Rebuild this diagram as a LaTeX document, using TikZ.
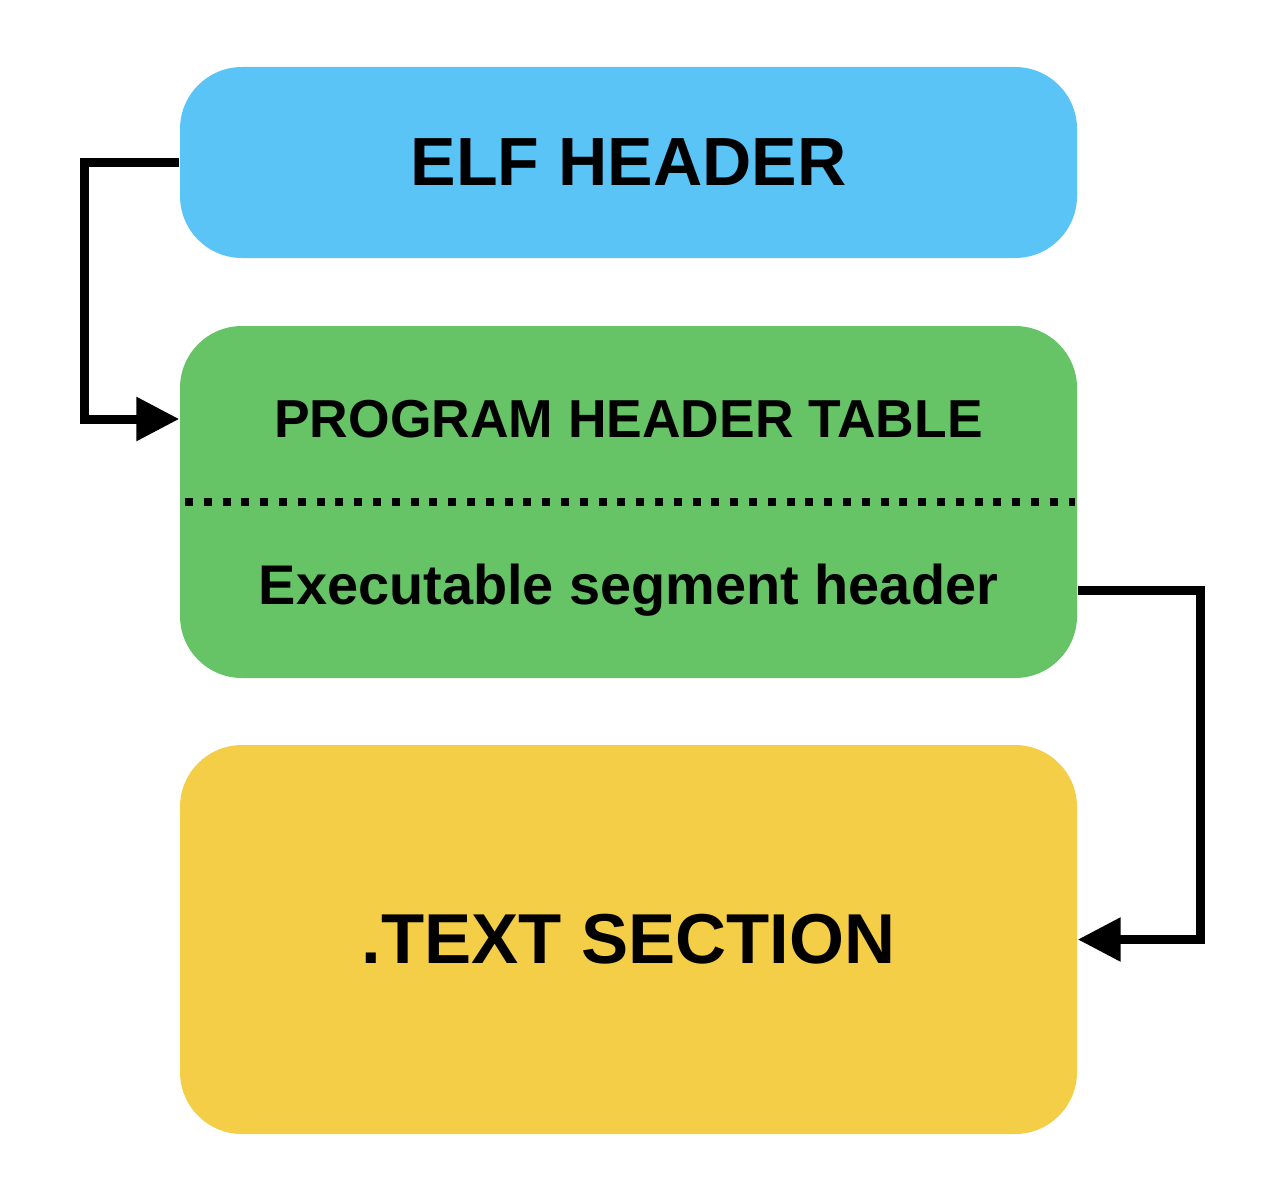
\documentclass[tikz,border=0pt]{standalone}
\usepackage{fontspec}
\setmainfont{Liberation Sans}
\usetikzlibrary{positioning}
\usetikzlibrary{arrows.meta}

\definecolor{elfblue}{HTML}{5BC4F7}
\definecolor{phgreen}{HTML}{66C466}
\definecolor{txtyellow}{HTML}{F5CE47}

\begin{document}
\begin{tikzpicture}
	[block/.style={rectangle, rounded corners=0.62cm, minimum width=8.97cm, inner sep=0pt, draw=none},
	link/.style={line width=0.09cm, -{Triangle[length=0.43cm,width=0.42cm]}},
	label/.style={font=\bfseries, text=black, inner sep=0pt}]

\useasboundingbox (0,0) rectangle (12.8,-12.01);

\node [block, fill=elfblue, minimum height=1.91cm] (elf) at (6.285,-1.625) {};
\node [block, fill=phgreen, minimum height=3.52cm] (phdr) at (6.285,-5.02) {};
\node [block, fill=txtyellow, minimum height=3.89cm] (txt) at (6.285,-9.395) {};

\node [label, font=\fontsize{19.4}{22}\selectfont\bfseries] (elflabel) at (elf) {ELF HEADER};
\node [label, font=\fontsize{15.2}{18}\selectfont\bfseries] (phtitle) at (6.285,-4.19) {PROGRAM HEADER TABLE};
\node [label, font=\fontsize{15.9}{18}\selectfont\bfseries] (seghdr) at (6.285,-5.9) {Executable segment header};
\node [label, font=\fontsize{20.1}{23}\selectfont\bfseries] (txtlabel) at (txt) {.TEXT SECTION};

% dotted divider in the program header table
\coordinate (divl) at (1.85,-5.02);
\coordinate (divr) at (10.75,-5.02);
\draw [line width=0.08cm, dash pattern=on 0.08cm off 0.108cm] (divl) -- (divr);

% elf header points to the program header table
\draw [link] (elf.west) -- ++(-0.95,0) |- (phtitle -| phdr.west);
% segment header points to .text
\draw [link] (seghdr -| phdr.east) -- ++(1.23,0) |- (txt.east);

\end{tikzpicture}
\end{document}
